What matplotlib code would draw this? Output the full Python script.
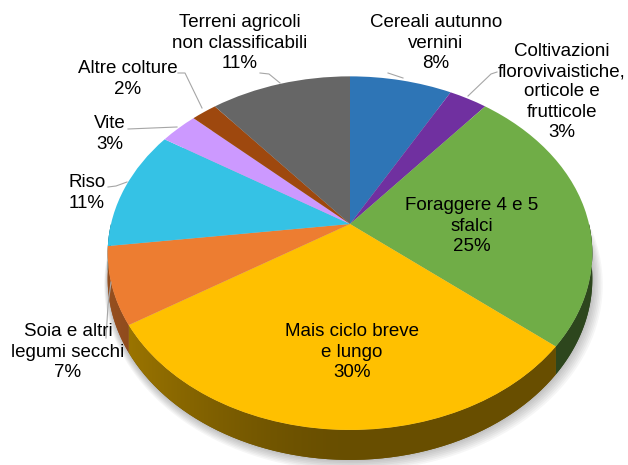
import numpy as np
import matplotlib.pyplot as plt
from matplotlib.colors import to_rgb
from matplotlib.patches import Polygon
from matplotlib.transforms import Transform

plt.rcParams['font.family'] = ['Liberation Sans', 'DejaVu Sans']

# dati
categories = ["Cereali autunno\nvernini",
              "Coltivazioni\nflorovivaistiche,\norticole e\nfrutticole",
              "Foraggere 4 e 5\nsfalci",
              "Mais ciclo breve\ne lungo",
              "Soia e altri\nlegumi secchi",
              "Riso",
              "Vite",
              "Altre colture",
              "Terreni agricoli\nnon classificabili"]
shares = [8, 3, 25, 30, 7, 11, 3, 2, 11]
colors = ["#2E75B6", "#7030A0", "#70AD47", "#FFC000", "#ED7D31",
          "#35C2E5", "#CC99FF", "#9E480E", "#666666"]

# posizione delle etichette (pixel) e linee guida
label_xy = [(436, 43), (562, 92), (472, 226), (352, 352), (68, 352),
            (87, 193), (110, 134), (128, 79), (240, 43)]
leaders = [[(388, 73), (403, 78)],
           [(497, 72), (491, 74), (468, 96)],
           None,
           None,
           [(106, 338), (108, 305), (111, 282)],
           [(108, 187), (116, 186), (127, 182)],
           [(128, 129), (177, 127)],
           [(178, 73), (185, 73), (202, 108)],
           [(260, 73), (269, 74), (280, 83)]]

# geometria della torta 3D (pixel)
W, H = 628, 465
CX, CY = 350, 224
RX, RY = 239, 172
K = 0.165
DEPTH = 25


def project(u, v, drop=0.0):
    u = np.asarray(u, float)
    v = np.asarray(v, float)
    s = 1.0 / (1.0 + K * v)
    return np.column_stack([CX + RX * u * s, CY - (RY * v - drop) * s])


class Perspective(Transform):
    input_dims = 2
    output_dims = 2

    def transform_non_affine(self, values):
        values = np.asarray(values, float)
        return project(values[:, 0], values[:, 1])


fig = plt.figure(figsize=(W / 100, H / 100), dpi=100)
ax = fig.add_axes([0, 0, 1, 1])

wedges, _ = ax.pie(shares, colors=colors, startangle=90, counterclock=False,
                   radius=1, center=(0, 0),
                   wedgeprops=dict(linewidth=0, antialiased=True))

# ombra
t = np.radians(np.linspace(0, 360, 200))
for d in range(1, 8):
    pts = project(np.cos(t) * (1 + d * 0.004), np.sin(t) * (1 + d * 0.004), DEPTH)
    pts = pts + np.array([d * 0.5, d * 0.6])
    ax.add_patch(Polygon(pts, closed=True, facecolor='black', edgecolor='none',
                         alpha=0.035, zorder=0))

# sfumatura del fianco: più chiara a sinistra, scura al centro e a destra
px = np.arange(W) + 0.5
u = np.clip((px - CX) / RX, -1, 1)
shade = 0.41 + 0.22 * np.clip(-u, 0, 1) ** 1.6

# fianchi della torta
for w, col in zip(wedges, colors):
    w.set_transform(Perspective() + ax.transData)
    w.set_zorder(3)
    lo, hi = max(w.theta1, -180), min(w.theta2, 0)
    if hi <= lo:
        continue
    angs = np.radians(np.linspace(lo, hi, 60))
    base = np.array(to_rgb(col))
    top = project(np.cos(angs), np.sin(angs))
    bot = project(np.cos(angs[::-1]), np.sin(angs[::-1]), DEPTH)
    side = Polygon(np.vstack([top, bot]), closed=True,
                   facecolor=base * shade[int(np.clip(top[:, 0].mean(), 0, W - 1))],
                   edgecolor='none', zorder=1)
    ax.add_patch(side)
    img = (base[None, :] * shade[:, None])[None, :, :]
    im = ax.imshow(img, extent=(0, W, H, 0), aspect='auto',
                   interpolation='nearest', zorder=2)
    im.set_clip_path(side)

ax.set_aspect('auto')
ax.set_xlim(0, W)
ax.set_ylim(H, 0)
ax.axis('off')

# etichette
for name, val, (x, y), lead in zip(categories, shares, label_xy, leaders):
    ax.text(x, y, f"{name}\n{val}%", ha='center', va='center', fontsize=13.5,
            linespacing=1.25, color='black', zorder=5)
    if lead:
        xs, ys = zip(*lead)
        ax.plot(xs, ys, color='#A6A6A6', lw=0.8, zorder=4)

plt.savefig("out.png", dpi=100)
